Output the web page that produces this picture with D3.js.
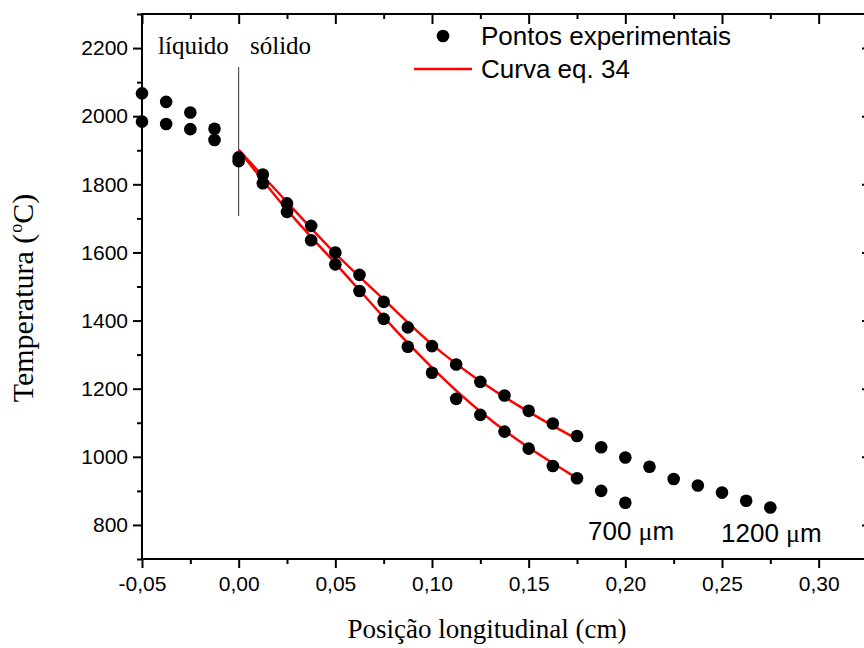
<html>
<head>
<meta charset="utf-8">
<title>Temperatura x posição</title>
<style>
  body { margin: 0; background: white; }
</style>
</head>
<body>
<svg width="864" height="648"></svg>
<script src="https://d3js.org/d3.v7.min.js"></script>
<script>
// 1200 um series (upper)
var pos1200 = [-0.05, -0.0375, -0.025, -0.0125, 0, 0.0125, 0.025, 0.0375, 0.05, 0.0625, 0.075, 0.0875, 0.1, 0.1125, 0.125, 0.1375, 0.15, 0.1625, 0.175, 0.1875, 0.2, 0.2125, 0.225, 0.2375, 0.25, 0.2625, 0.275];
var temp1200 = [2067, 2042, 2011, 1963, 1879, 1829, 1744, 1678, 1600, 1534, 1455, 1380, 1325, 1271, 1220, 1180, 1135, 1098, 1061, 1028, 998, 971, 935, 916, 895, 871, 851];

// 700 um series (lower)
var pos700 = [-0.05, -0.0375, -0.025, -0.0125, 0, 0.0125, 0.025, 0.0375, 0.05, 0.0625, 0.075, 0.0875, 0.1, 0.1125, 0.125, 0.1375, 0.15, 0.1625, 0.175, 0.1875, 0.2];
var temp700 = [1984, 1977, 1962, 1930, 1868, 1803, 1719, 1636, 1565, 1487, 1405, 1323, 1247, 1170, 1123, 1074, 1024, 973, 937, 900, 865];

// eq. 34 curves
var fitPos = [0, 0.025, 0.05, 0.075, 0.1, 0.125, 0.15, 0.175];
var fit1200 = [1901, 1748, 1597, 1462, 1330, 1222, 1132, 1052];
var fit700 = [1901, 1725, 1568, 1410, 1262, 1133, 1027, 937];

var xMajor = [-0.05, 0, 0.05, 0.1, 0.15, 0.2, 0.25, 0.3];
var xMinor = [-0.025, 0.025, 0.075, 0.125, 0.175, 0.225, 0.275, 0.325];
var yMajor = [800, 1000, 1200, 1400, 1600, 1800, 2000, 2200];
var yMinor = [700, 900, 1100, 1300, 1500, 1700, 1900, 2100, 2300];

var svg = d3.select('svg');
var mLeft = 142, mRight = 867, mTop = 14, mBottom = 559;

var x = d3.scaleLinear().domain([-0.05, 0.325]).range([mLeft, mRight]);
var y = d3.scaleLinear().domain([700, 2300]).range([mBottom, mTop]);

var loc = d3.formatLocale({decimal: ",", thousands: ".", grouping: [3], currency: ["", ""], minus: "-"});
var fx = loc.format(".2f");

var sans = "'Liberation Sans', Arial, sans-serif";
var serif = "'Liberation Serif', 'Times New Roman', serif";

// bottom axis (outward ticks)
var gb = svg.append('g').attr('transform', 'translate(0,' + mBottom + ')')
  .call(d3.axisBottom(x).tickValues(xMajor).tickSize(9).tickPadding(8).tickFormat(fx));
gb.append('g').call(d3.axisBottom(x).tickValues(xMinor).tickSize(5).tickFormat(''));
// left axis
var gl = svg.append('g').attr('transform', 'translate(' + mLeft + ',0)')
  .call(d3.axisLeft(y).tickValues(yMajor).tickSize(9).tickPadding(5).tickFormat(d3.format('d')));
gl.append('g').call(d3.axisLeft(y).tickValues(yMinor).tickSize(5).tickFormat(''));
// top axis (inward)
var gt = svg.append('g').attr('transform', 'translate(0,' + mTop + ')')
  .call(d3.axisBottom(x).tickValues(xMajor).tickSize(10).tickFormat(''));
gt.append('g').call(d3.axisBottom(x).tickValues(xMinor).tickSize(5).tickFormat(''));
// right axis (inward)
var gr = svg.append('g').attr('transform', 'translate(' + mRight + ',0)')
  .call(d3.axisLeft(y).tickValues(yMajor).tickSize(5).tickFormat(''));

svg.selectAll('.domain').attr('d', null);
svg.selectAll('.tick line').attr('stroke', 'black').attr('stroke-width', 2);
svg.selectAll('.tick text').attr('font-family', sans).attr('font-size', '21px').attr('fill', 'black');

// frame
svg.append('rect')
  .attr('x', mLeft).attr('y', mTop)
  .attr('width', mRight - mLeft).attr('height', mBottom - mTop)
  .attr('fill', 'none').attr('stroke', 'black').attr('stroke-width', 2);

// liquid / solid separator
svg.append('line')
  .attr('x1', x(0)).attr('x2', x(0))
  .attr('y1', 67).attr('y2', 216)
  .attr('stroke', '#333').attr('stroke-width', 1);

svg.append('text').text('líquido')
  .attr('x', 158).attr('y', 54)
  .attr('font-family', serif).attr('font-size', '25px');
svg.append('text').text('sólido')
  .attr('x', 250).attr('y', 54)
  .attr('font-family', serif).attr('font-size', '25px');

// fitted curves
var line = d3.line().curve(d3.curveNatural)
  .x(function(d) { return x(d[0]); })
  .y(function(d) { return y(d[1]); });

[fit1200, fit700].forEach(function(f) {
  svg.append('path')
    .datum(fitPos.map(function(p, i) { return [p, f[i]]; }))
    .attr('d', line)
    .attr('fill', 'none')
    .attr('stroke', 'red')
    .attr('stroke-width', 2.4);
});

// experimental points
var pts = pos1200.map(function(p, i) { return [p, temp1200[i]]; })
  .concat(pos700.map(function(p, i) { return [p, temp700[i]]; }));

svg.selectAll('circle.pt')
  .data(pts)
  .enter()
  .append('circle')
  .attr('class', 'pt')
  .attr('cx', function(d) { return x(d[0]); })
  .attr('cy', function(d) { return y(d[1]); })
  .attr('r', 6.3)
  .attr('fill', 'black');

// legend
svg.append('circle').attr('cx', 443).attr('cy', 36).attr('r', 6.3).attr('fill', 'black');
svg.append('text').text('Pontos experimentais')
  .attr('x', 481).attr('y', 45)
  .attr('font-family', sans).attr('font-size', '26px');
svg.append('line')
  .attr('x1', 414).attr('x2', 472).attr('y1', 69).attr('y2', 69)
  .attr('stroke', 'red').attr('stroke-width', 2.4);
svg.append('text').text('Curva eq. 34')
  .attr('x', 481).attr('y', 78)
  .attr('font-family', sans).attr('font-size', '26px');

// series labels
function umLabel(txt, px, py) {
  var t = svg.append('text')
    .attr('x', px).attr('y', py)
    .attr('font-family', sans).attr('font-size', '26px');
  t.append('tspan').text(txt + ' ');
  t.append('tspan').attr('font-family', serif).text('μ');
  t.append('tspan').text('m');
}
umLabel('700', 588, 540);
umLabel('1200', 721, 542);

// axis titles
svg.append('text')
  .attr('x', 487).attr('y', 638)
  .attr('text-anchor', 'middle')
  .attr('font-family', serif).attr('font-size', '27px')
  .text('Posição longitudinal (cm)');

var yt = svg.append('text')
  .attr('transform', 'translate(33,298) rotate(-90)')
  .attr('text-anchor', 'middle')
  .attr('font-family', serif).attr('font-size', '30px');
yt.append('tspan').text('Temperatura (');
yt.append('tspan').attr('dy', -11).attr('dx', 1).attr('font-size', '18px').text('o');
yt.append('tspan').attr('dy', 11).text('C)');
</script>
</body>
</html>
